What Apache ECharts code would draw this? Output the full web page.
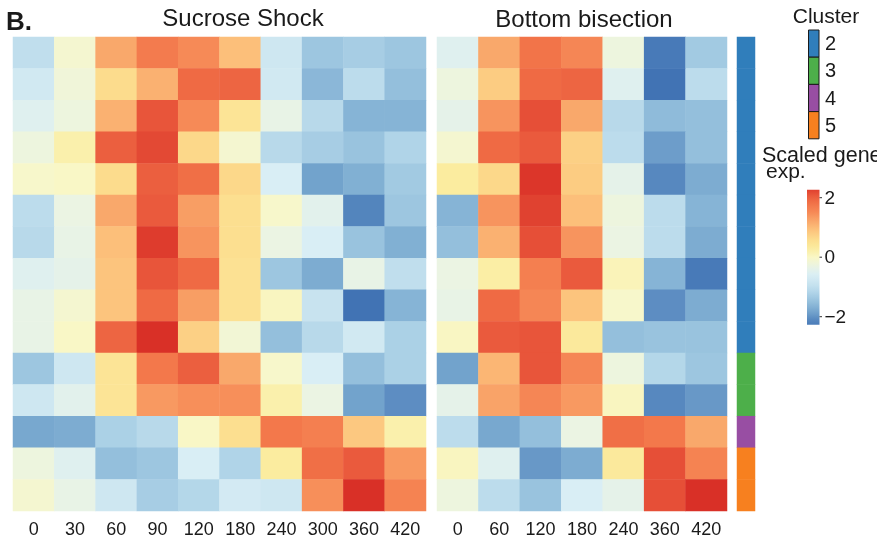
<!DOCTYPE html>
<html>
<head>
<meta charset="utf-8">
<script src="https://cdn.jsdelivr.net/npm/echarts@6/dist/echarts.min.js"></script>
<style>
  html, body { margin: 0; padding: 0; background: #ffffff; }
  #chart { width: 877px; height: 558px; }
</style>
</head>
<body>
<div id="chart"></div>
<script>
// Time points (minutes) for each experiment
const sucroseTimes = ['0', '30', '60', '90', '120', '180', '240', '300', '360', '420'];
const bisectionTimes = ['0', '60', '120', '180', '240', '360', '420'];

// Cluster membership of each gene row (top to bottom)
const clusterOfRow = [2, 2, 2, 2, 2, 2, 2, 2, 2, 2, 3, 3, 4, 5, 5];
const clusterIds = [2, 3, 4, 5];

// Scaled gene expression, one row per gene, one value per time point
const sucroseExpr = [
  [-1.0, -0.1, 1.2, 1.7, 1.5, 0.95, -0.8, -1.4, -1.3, -1.4],
  [-0.75, -0.2, 0.6, 1.1, 1.9, 1.95, -0.75, -1.6, -1.05, -1.5],
  [-0.5, -0.25, 1.1, 2.1, 1.5, 0.45, -0.35, -1.1, -1.65, -1.65],
  [-0.25, 0.2, 2.0, 2.2, 0.65, -0.1, -1.1, -1.3, -1.45, -1.2],
  [-0.05, 0.0, 0.6, 2.0, 1.85, 0.65, -0.6, -1.85, -1.7, -1.35],
  [-1.05, -0.3, 1.2, 2.05, 1.3, 0.55, -0.05, -0.45, -2.15, -1.4],
  [-1.1, -0.35, 0.95, 2.3, 1.4, 0.55, -0.3, -0.6, -1.45, -1.7],
  [-0.5, -0.4, 0.9, 2.1, 1.9, 0.5, -1.4, -1.75, -0.35, -1.0],
  [-0.35, -0.1, 0.9, 1.9, 1.3, 0.5, 0.05, -0.9, -2.4, -1.65],
  [-0.35, 0.0, 1.95, 2.4, 0.75, -0.15, -1.5, -1.1, -0.75, -1.25],
  [-1.4, -0.8, 0.45, 1.75, 2.0, 1.2, -0.05, -0.6, -1.5, -1.25],
  [-0.8, -0.45, 0.45, 1.35, 1.45, 1.45, 0.2, -0.3, -1.85, -2.05],
  [-1.8, -1.75, -1.25, -1.1, 0.0, 0.55, 1.75, 1.65, 0.85, 0.2],
  [-0.25, -0.5, -1.5, -1.4, -0.6, -1.2, 0.3, 1.85, 2.05, 1.35],
  [-0.1, -0.35, -0.8, -1.3, -1.15, -0.7, -0.8, 1.45, 2.4, 1.6]
];

const bisectionExpr = [
  [-0.5, 1.2, 1.8, 1.55, -0.25, -2.3, -1.35],
  [-0.25, 0.8, 1.9, 1.95, -0.5, -2.4, -1.05],
  [-0.4, 1.4, 2.15, 1.2, -1.1, -1.55, -1.5],
  [-0.1, 1.9, 2.05, 0.75, -1.05, -1.9, -1.5],
  [0.3, 0.65, 2.35, 0.8, -0.4, -2.1, -1.75],
  [-1.65, 1.4, 2.25, 0.95, -0.25, -1.05, -1.65],
  [-1.5, 1.1, 2.15, 1.4, -0.3, -1.05, -1.75],
  [-0.3, 0.25, 1.65, 2.05, 0.1, -1.65, -2.3],
  [-0.35, 1.9, 1.55, 0.9, -0.05, -2.05, -1.75],
  [0.02, 2.05, 2.1, 0.35, -1.5, -1.45, -1.45],
  [-1.85, 1.05, 2.1, 1.55, -0.25, -1.15, -1.4],
  [-0.4, 1.25, 1.55, 1.35, 0.05, -2.1, -1.95],
  [-1.05, -1.8, -1.5, -0.3, 1.85, 1.75, 1.2],
  [0.05, -0.5, -1.95, -1.75, 0.35, 2.15, 1.6],
  [-0.25, -1.05, -1.45, -0.6, -0.4, 2.15, 2.4]
];

// Colour legend tick values
const legendTicks = [2, 0, -2];

// ---- styling ----
const FONT = "'Liberation Sans', Arial, Helvetica, sans-serif";
const TEXT = '#1a1a1a';
const clusterColors = { 2: '#307ebb', 3: '#4daf4a', 4: '#984ea3', 5: '#f7801f' };
// Diverging blue-yellow-red palette, evenly spaced from -2.4 to 2.4
const SCALE_MIN = -2.4, SCALE_MAX = 2.4;
const palette = ['#4173b4', '#5788bf', '#78a8cf', '#94bfdc', '#b0d4e8', '#c8e3ef', '#d9eef5', '#ebf4e3',
  '#f9f7c6', '#fbec9f', '#fcdc8d', '#fcc47d', '#f9a86b', '#f68a57', '#f27449', '#e8553a', '#d93027'];

const rowNames = clusterOfRow.map((c, i) => 'g' + (i + 1));

function toCells(matrix) {
  const out = [];
  matrix.forEach((row, r) => row.forEach((v, c) => out.push([c, r, v])));
  return out;
}

function hexToRgb(h) {
  return [parseInt(h.slice(1, 3), 16), parseInt(h.slice(3, 5), 16), parseInt(h.slice(5, 7), 16)];
}
function colorAt(v) {
  const t = (v - SCALE_MIN) / (SCALE_MAX - SCALE_MIN) * (palette.length - 1);
  const i = Math.max(0, Math.min(palette.length - 2, Math.floor(t)));
  const f = Math.max(0, Math.min(1, t - i));
  const a = hexToRgb(palette[i]), b = hexToRgb(palette[i + 1]);
  const m = a.map((x, k) => Math.round(x + (b[k] - x) * f));
  return 'rgb(' + m.join(',') + ')';
}

// Grid geometry
const TOP = 37, HEIGHT = 474;
const grids = [
  { left: 13, top: TOP, width: 413, height: HEIGHT },
  { left: 437, top: TOP, width: 290, height: HEIGHT },
  { left: 737, top: TOP, width: 18, height: HEIGHT }
];

function xAxisFor(idx, cats, showLabels) {
  return {
    type: 'category', gridIndex: idx, data: cats, position: 'bottom',
    axisLine: { show: false }, axisTick: { show: false }, splitLine: { show: false },
    axisLabel: { show: showLabels, interval: 0, margin: 10, fontSize: 18, color: TEXT, fontFamily: FONT }
  };
}
function yAxisFor(idx) {
  return {
    type: 'category', gridIndex: idx, data: rowNames, inverse: true,
    axisLine: { show: false }, axisTick: { show: false }, axisLabel: { show: false }, splitLine: { show: false }
  };
}

// Colour legend bar geometry
const legendZeroY = 257.2, legendUnit = 29.75, legendHalf = 2.27;
const legendX = 807, legendW = 12.5;
const legendTop = legendZeroY - legendHalf * legendUnit;
const legendBottom = legendZeroY + legendHalf * legendUnit;
const gradStops = [];
const nStops = 24;
for (let i = 0; i <= nStops; i++) {
  const v = legendHalf - (2 * legendHalf) * i / nStops;
  gradStops.push({ offset: i / nStops, color: colorAt(v) });
}

const graphics = [
  { type: 'text', x: 6, y: 22.5, style: { text: 'B.', font: 'bold 26px ' + FONT, fill: TEXT, textVerticalAlign: 'middle' } },
  { type: 'text', x: 243, y: 19, style: { text: 'Sucrose Shock', font: '24px ' + FONT, fill: TEXT, textAlign: 'center', textVerticalAlign: 'middle' } },
  { type: 'text', x: 584, y: 20.5, style: { text: 'Bottom bisection', font: '24px ' + FONT, fill: TEXT, textAlign: 'center', textVerticalAlign: 'middle' } },
  { type: 'text', x: 826, y: 17, style: { text: 'Cluster', font: '21px ' + FONT, fill: TEXT, textAlign: 'center', textVerticalAlign: 'middle' } },
  { type: 'text', x: 762, y: 167, style: { text: 'Scaled gene', font: '21.5px ' + FONT, fill: TEXT, textVerticalAlign: 'bottom' } },
  { type: 'text', x: 766, y: 183, style: { text: 'exp.', font: '21px ' + FONT, fill: TEXT, textVerticalAlign: 'bottom' } },
  {
    type: 'rect', shape: { x: legendX, y: legendTop, width: legendW, height: legendBottom - legendTop },
    style: { fill: { type: 'linear', x: 0, y: 0, x2: 0, y2: 1, colorStops: gradStops } }
  }
];

// Cluster key boxes
const keyTop = 30, keyH = 27.2;
clusterIds.forEach((c, i) => {
  graphics.push({
    type: 'rect', shape: { x: 808.5, y: keyTop + i * keyH, width: 10.5, height: keyH },
    style: { fill: clusterColors[c], stroke: '#1a1a1a', lineWidth: 1 }
  });
  graphics.push({
    type: 'text', x: 825, y: keyTop + i * keyH + keyH / 2 + 1,
    style: { text: String(c), font: '20px ' + FONT, fill: TEXT, textVerticalAlign: 'middle' }
  });
});

// Colour legend ticks and labels
legendTicks.forEach(v => {
  const y = legendZeroY - v * legendUnit;
  graphics.push({ type: 'line', shape: { x1: legendX + legendW, y1: y, x2: legendX + legendW + 2.5, y2: y }, style: { stroke: '#333', lineWidth: 1 } });
  graphics.push({
    type: 'text', x: legendX + legendW + 5, y: y + 1,
    style: { text: v < 0 ? '\u2212' + Math.abs(v) : String(v), font: '19px ' + FONT, fill: TEXT, textVerticalAlign: 'middle' }
  });
});

const chart = echarts.init(document.getElementById('chart'), null, { renderer: 'canvas' });
chart.setOption({
  animation: false,
  backgroundColor: '#ffffff',
  grid: grids,
  xAxis: [
    xAxisFor(0, sucroseTimes, true),
    xAxisFor(1, bisectionTimes, true),
    xAxisFor(2, ['cluster'], false)
  ],
  yAxis: [yAxisFor(0), yAxisFor(1), yAxisFor(2)],
  visualMap: {
    type: 'continuous', show: false, seriesIndex: [0, 1],
    min: SCALE_MIN, max: SCALE_MAX, dimension: 2,
    inRange: { color: palette }
  },
  series: [
    {
      name: 'Sucrose Shock', type: 'heatmap', xAxisIndex: 0, yAxisIndex: 0,
      data: toCells(sucroseExpr), emphasis: { disabled: true }, progressive: 0
    },
    {
      name: 'Bottom bisection', type: 'heatmap', xAxisIndex: 1, yAxisIndex: 1,
      data: toCells(bisectionExpr), emphasis: { disabled: true }, progressive: 0
    },
    {
      name: 'Cluster', type: 'heatmap', xAxisIndex: 2, yAxisIndex: 2,
      data: clusterOfRow.map((c, r) => ({ value: [0, r, c], itemStyle: { color: clusterColors[c] } })),
      emphasis: { disabled: true }, progressive: 0
    }
  ],
  graphic: graphics
});
</script>
</body>
</html>
